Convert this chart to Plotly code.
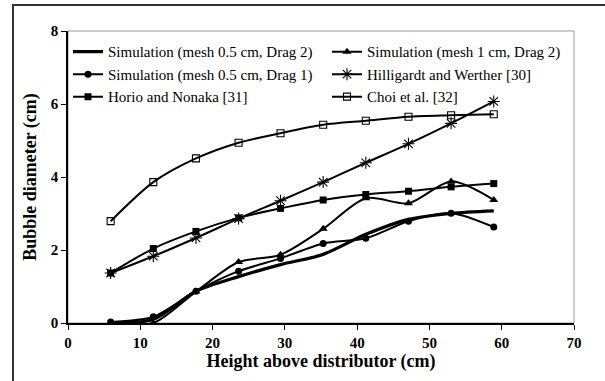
import plotly.graph_objects as go

x = [5.9, 11.8, 17.7, 23.6, 29.4, 35.3, 41.2, 47.1, 53.0, 58.9]
sim05_d2 = [0.0, 0.1, 0.87, 1.27, 1.6, 1.88, 2.43, 2.84, 3.0, 3.07]
sim1_d2 = [0.0, 0.0, 0.86, 1.67, 1.87, 2.58, 3.42, 3.28, 3.88, 3.37]
sim05_d1 = [0.03, 0.17, 0.87, 1.42, 1.77, 2.18, 2.32, 2.79, 3.01, 2.63]
hill = [1.37, 1.83, 2.33, 2.86, 3.35, 3.86, 4.39, 4.91, 5.47, 6.07]
horio = [1.37, 2.04, 2.51, 2.88, 3.14, 3.37, 3.52, 3.61, 3.73, 3.82]
choi = [2.79, 3.86, 4.51, 4.94, 5.2, 5.43, 5.54, 5.65, 5.69, 5.72]

names = [
    "Simulation (mesh 0.5 cm, Drag 2)",
    "Simulation (mesh 1 cm, Drag 2)",
    "Simulation (mesh 0.5 cm, Drag 1)",
    "Hilligardt and Werther [30]",
    "Horio and Nonaka [31]",
    "Choi et al. [32]",
]

W, H = 605, 381
L, R, T, B = 68, 31, 31, 58
pw, ph = W - L - R, H - T - B


def px(xp):
    return (xp - L) / pw


def py(yp):
    return (H - B - yp) / ph


fig = go.Figure()
series = [
    (sim05_d2, dict(mode="lines", line=dict(width=3.2))),
    (sim1_d2, dict(mode="lines+markers", marker=dict(symbol="triangle-up", size=8))),
    (sim05_d1, dict(mode="lines+markers", marker=dict(symbol="circle", size=7))),
    (hill, dict(mode="lines+markers", marker=dict(symbol="asterisk-open", size=10, line=dict(width=1.1, color="black")))),
    (horio, dict(mode="lines+markers", marker=dict(symbol="square", size=7))),
    (choi, dict(mode="lines+markers", marker=dict(symbol="square-open", size=7, line=dict(width=1.1, color="black")))),
]
for i, ((ys, style), nm) in enumerate(zip(series, names)):
    line = dict(color="black", width=2, shape="spline", smoothing=0.8)
    if "line" in style:
        line.update(style.pop("line"))
    marker = style.pop("marker", {})
    marker.setdefault("color", "black")
    fig.add_trace(go.Scatter(x=x, y=ys, name=nm, line=line, marker=marker,
                             legend="legend" if i % 2 == 0 else "legend2", **style))

font = "Liberation Serif"
leg_common = dict(
    orientation="v", yanchor="top", xanchor="left", itemwidth=30,
    font=dict(family=font, size=15, color="black"),
    bgcolor="rgba(0,0,0,0)", traceorder="normal",
)

fig.update_layout(
    width=W, height=H,
    margin=dict(l=L, r=R, t=T, b=B),
    paper_bgcolor="white", plot_bgcolor="white",
    font=dict(family=font, color="black"),
    showlegend=True,
    legend=dict(x=0.0, y=0.985, **leg_common),
    legend2=dict(x=px(327), y=0.985, **leg_common),
    xaxis=dict(
        range=[0, 70], dtick=10, tick0=0, showgrid=False, zeroline=False,
        showline=True, linecolor="black", linewidth=1.5,
        ticks="outside", ticklen=5, tickcolor="black", tickwidth=1.2,
        tickfont=dict(family=font, size=15, color="black", weight="bold"),
        title=dict(text="<b>Height above distributor (cm)</b>", font=dict(family=font, size=18), standoff=1),
    ),
    yaxis=dict(
        range=[0, 8], dtick=2, tick0=0, showgrid=False, zeroline=False,
        showline=True, linecolor="black", linewidth=1.5,
        ticks="outside", ticklen=5, tickcolor="black", tickwidth=1.2,
        tickfont=dict(family=font, size=15, color="black", weight="bold"),
        title=dict(text="<b>Bubble diameter (cm)</b>", font=dict(family=font, size=18), standoff=9),
    ),
    shapes=[
        dict(type="rect", xref="paper", yref="paper", x0=0, x1=1, y0=0, y1=1,
             line=dict(color="#999999", width=1), layer="below"),
        dict(type="rect", xref="paper", yref="paper", x0=px(13), x1=px(640), y0=py(5), y1=py(420),
             line=dict(color="#333333", width=2), layer="above"),
    ],
)

fig.write_html("out.html")
